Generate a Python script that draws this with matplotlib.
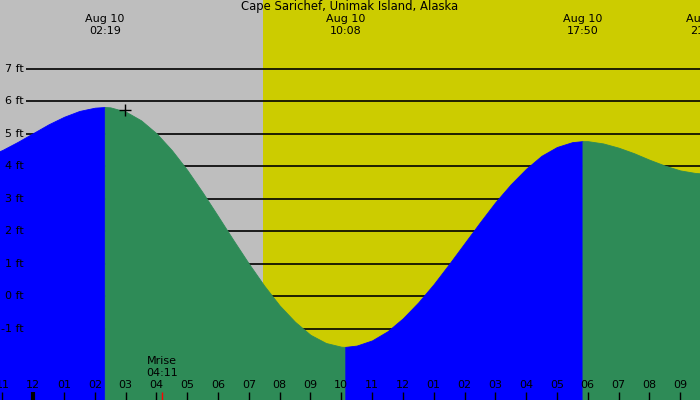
import matplotlib
matplotlib.use("Agg")
from matplotlib import pyplot as plt

plt.rcParams['font.family'] = 'DejaVu Sans'

# Cape Sarichef tide, Aug 10 -- hours after midnight vs height in feet
tide_hours = [-1.5, -1.0, -0.5, 0.0, 0.5, 1.0, 1.5, 2.0, 2.32,
              2.5, 3.0, 3.5, 4.0, 4.5, 5.0, 5.5, 6.0, 6.5, 7.0, 7.5,
              8.0, 8.5, 9.0, 9.5, 10.0, 10.13,
              10.5, 11.0, 11.5, 12.0, 12.5, 13.0, 13.5, 14.0, 14.5, 15.0,
              15.5, 16.0, 16.5, 17.0, 17.5, 17.83,
              18.0, 18.5, 19.0, 19.5, 20.0, 20.5, 21.0, 21.5, 21.83]
tide_ft = [4.31, 4.51, 4.76, 5.03, 5.30, 5.53, 5.71, 5.81, 5.83,
           5.82, 5.69, 5.42, 5.02, 4.50, 3.89, 3.20, 2.47, 1.73, 1.01, 0.33,
           -0.28, -0.78, -1.18, -1.43, -1.545, -1.55,
           -1.51, -1.35, -1.07, -0.67, -0.18, 0.38, 1.00, 1.64, 2.28, 2.90,
           3.45, 3.93, 4.33, 4.60, 4.75, 4.78,
           4.78, 4.71, 4.58, 4.41, 4.21, 4.03, 3.88, 3.80, 3.78]

# high / low events
event_hours = [2.32, 10.13, 17.83, 21.83]
event_dates = ['Aug 10', 'Aug 10', 'Aug 10', 'Aug 10']
event_times = ['02:19', '10:08', '17:50', '21:50']

sunrise = 7.46
moonrise = 4.18
marker_hour, marker_ft = 2.98, 5.74

ft_levels = [7, 6, 5, 4, 3, 2, 1, 0, -1]
hour_ticks = list(range(-1, 22))

t0, t1 = -1.081, 21.646
gray = '#bebebe'
yellow = '#cccc00'
blue = '#0000ff'
green = '#2e8b57'

fig = plt.figure(figsize=(7, 4), dpi=100)
ax = fig.add_axes([0, 0, 1, 1])
ax.set_xlim(t0, t1)
ax.set_ylim(-3.185, 9.123)
ax.axis('off')

ax.axvspan(t0, sunrise, color=gray, lw=0, zorder=0)
ax.axvspan(sunrise, t1, color=yellow, lw=0, zorder=0)

ax.hlines(ft_levels, 26 / 700, 1, transform=ax.get_yaxis_transform(),
          color='black', lw=1.2, zorder=1)

# rising = blue, falling = green
bounds = [t0 - 1] + event_hours[:3] + [t1 + 1]
for i in range(len(bounds) - 1):
    a, b = bounds[i], bounds[i + 1]
    xs = [t for t in tide_hours if a <= t <= b]
    ys = [h for t, h in zip(tide_hours, tide_ft) if a <= t <= b]
    c = blue if i % 2 == 0 else green
    ax.fill_between(xs, ys, -4, facecolor=c, edgecolor=c, lw=0.6, zorder=2)

ax.plot(marker_hour, marker_ft, marker='+', color='black', ms=9, mew=1, zorder=4)

for lv in ft_levels:
    ax.text(24 / 700, lv, '%d ft' % lv, transform=ax.get_yaxis_transform(),
            ha='right', va='center', fontsize=8, zorder=5)

ax.text(0.5, 0.983, 'Cape Sarichef, Unimak Island, Alaska', transform=ax.transAxes,
        ha='center', va='center', fontsize=8.4, zorder=5)
for h, d, s in zip(event_hours, event_dates, event_times):
    ax.text(h, 0.953, d, transform=ax.get_xaxis_transform(),
            ha='center', va='center', fontsize=8, zorder=5)
    ax.text(h, 0.923, s, transform=ax.get_xaxis_transform(),
            ha='center', va='center', fontsize=8, zorder=5)

xt = ax.get_xaxis_transform()
for h in hour_ticks:
    lab = '%02d' % ((h % 12) or 12)
    ax.text(h, 0.0375, lab, transform=xt, ha='center', va='center',
            fontsize=8, zorder=5)
    ax.vlines(h, 0, 0.02, transform=xt, color='black',
              lw=3 if h == 0 else 1, zorder=5)

ax.vlines(moonrise, 0, 0.02, transform=xt, color='red', lw=1, zorder=5)
ax.text(moonrise, 0.0975, 'Mrise', transform=xt, ha='center', va='center',
        fontsize=8, zorder=5)
ax.text(moonrise, 0.0675, '04:11', transform=xt, ha='center', va='center',
        fontsize=8, zorder=5)

plt.savefig('out.png', dpi=100)
